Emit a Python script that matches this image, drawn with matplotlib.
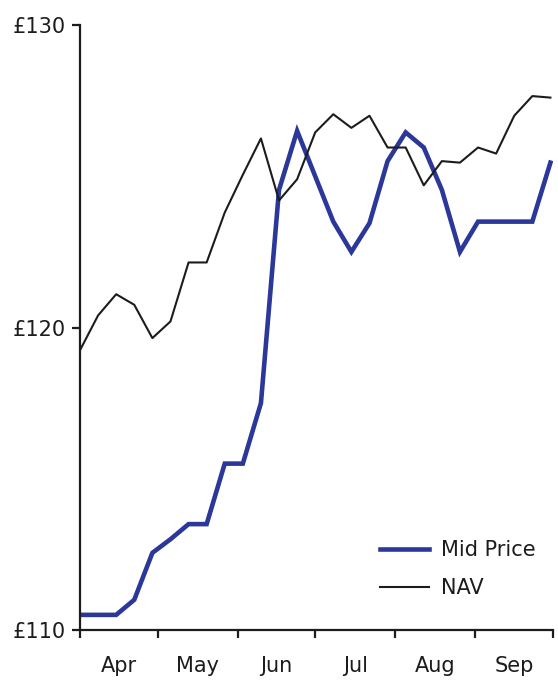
import matplotlib

matplotlib.use("Agg")
import matplotlib.pyplot as plt
import numpy as np

BLUE = "#2b3899"
INK = "#1c1c1c"

# weekly observations, days since 1 Apr
DAYS = np.arange(27) * 7
MID_PRICE = [110.5, 110.5, 110.5, 111.0, 112.55, 113.0, 113.5, 113.5, 115.5, 115.5,
             117.5, 124.55, 126.5, 125.0, 123.5, 122.5, 123.45, 125.5, 126.45, 125.95,
             124.55, 122.5, 123.5, 123.5, 123.5, 123.5, 125.45]
NAV = [119.25, 120.4, 121.1, 120.75, 119.65, 120.2, 122.15, 122.15, 123.8, 125.05,
       126.25, 124.2, 124.9, 126.45, 127.05, 126.6, 127.0, 125.95, 125.95, 124.7,
       125.5, 125.45, 125.95, 125.75, 127.0, 127.65, 127.6]

MONTH_STARTS = [0, 30, 61, 91, 122, 153, 183]
MONTH_LABELS = ["Apr", "May", "Jun", "Jul", "Aug", "Sep"]
Y_TICKS = [110, 120, 130]

fig = plt.figure(figsize=(5.58, 6.81), dpi=100)
ax = fig.add_axes([80 / 558, 1 - 630 / 681, (553 - 80) / 558, (630 - 25) / 681])

ax.plot(DAYS, MID_PRICE, color=BLUE, linewidth=3.3, label="Mid Price",
        solid_joinstyle="miter")
ax.plot(DAYS, NAV, color=INK, linewidth=1.5, label="NAV")

ax.set_xlim(MONTH_STARTS[0], MONTH_STARTS[-1])
ax.set_ylim(110, 130)
ax.set_yticks(Y_TICKS, [f"£{v}" for v in Y_TICKS])
ax.set_xticks(MONTH_STARTS, [""] * len(MONTH_STARTS))
mids = [(a + b) / 2 for a, b in zip(MONTH_STARTS[:-1], MONTH_STARTS[1:])]
ax.set_xticks(mids, MONTH_LABELS, minor=True)

for side in ("top", "right"):
    ax.spines[side].set_visible(False)
for side in ("left", "bottom"):
    ax.spines[side].set_color(INK)
    ax.spines[side].set_linewidth(1.6)
ax.tick_params(axis="both", which="major", direction="out", length=5.5, width=1.6,
               color=INK, labelsize=15, labelcolor=INK, pad=5)
ax.tick_params(axis="x", which="minor", length=0, labelsize=15, labelcolor=INK, pad=19)

leg = ax.legend(loc="upper left", bbox_to_anchor=(0.616, 0.162), frameon=False,
                fontsize=15, handlelength=2.36, handletextpad=0.58, labelspacing=0.87,
                borderaxespad=0)
for text in leg.get_texts():
    text.set_color(INK)

fig.savefig("out.png", dpi=100, facecolor="white")
